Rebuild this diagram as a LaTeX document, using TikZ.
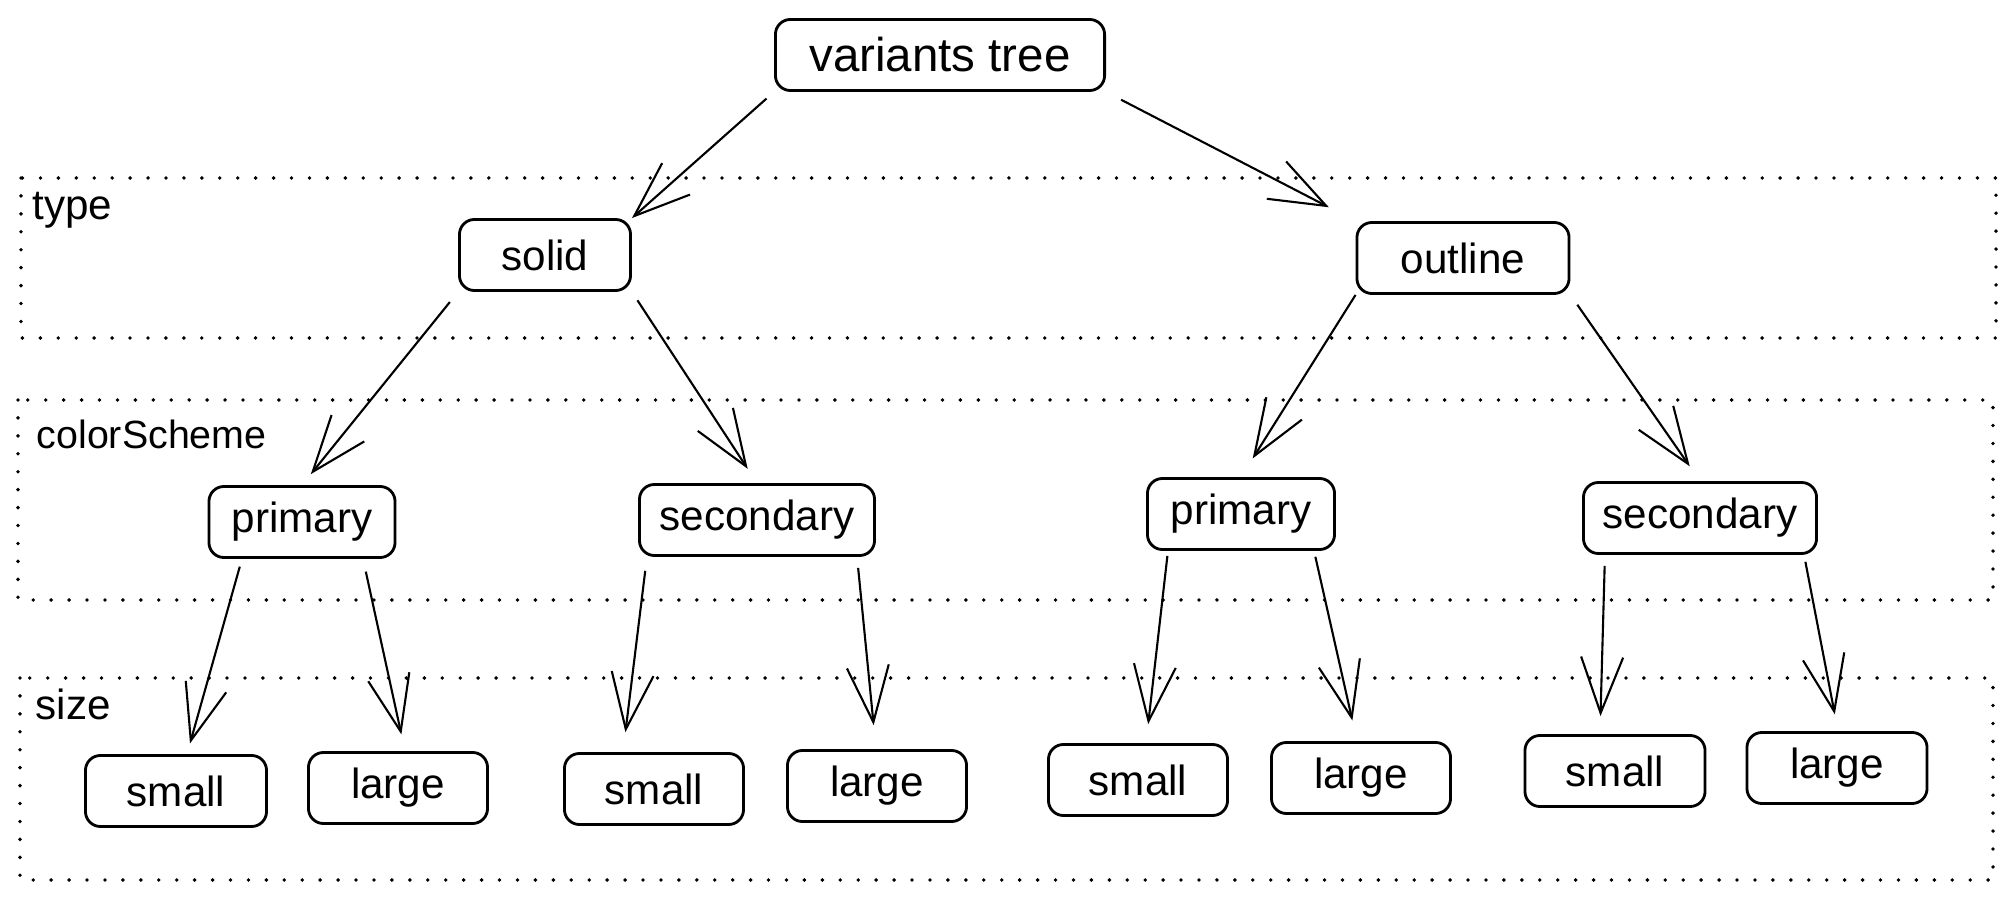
\documentclass[tikz,border=0pt]{standalone}
\usepackage{fontspec}
\setmainfont{Liberation Sans}
\usetikzlibrary{arrows.meta}
\tikzset{
	box/.style={draw, line width=0.8pt, rounded corners=0.15cm, minimum height=0.71cm, inner sep=0pt, font=\fontsize{12}{14}\selectfont},
	arr/.style={line width=0.6pt, -{Straight Barb[length=0.56cm, width=0.42cm]}},
	band/.style={line width=1.1pt, line cap=round, dash pattern=on 0pt off 5.1pt},
	layer/.style={inner sep=0pt, anchor=base west, font=\fontsize{12}{14}\selectfont},
}
\begin{document}
\begin{tikzpicture}[x=0.01cm, y=-0.01cm]
	\useasboundingbox (0, 0) rectangle (2015, 901);
	%層
	\draw[band] (21, 178) rectangle (1996, 338);
	\draw[band] (18, 400) rectangle (1993, 600);
	\draw[band] (20, 678) rectangle (1993, 880);
	\node[layer] (Ltype) at (32, 220) {type};
	\node[layer, font=\fontsize{11.2}{13}\selectfont] (Lcolor) at (36, 449) {colorScheme};
	\node[layer] (Lsize) at (35, 720) {size};
	%根
	\node[box, minimum width=3.29cm, font=\fontsize{13.5}{16}\selectfont] (tree) at (940, 55) {variants tree};
	%type
	\node[box, minimum width=1.71cm] (solid) at (545, 255) {solid};
	\node[box, minimum width=2.12cm] (outline) at (1463, 258) {outline};
	%colorScheme
	\node[box, minimum width=1.86cm] (primL) at (302, 522) {primary};
	\node[box, minimum width=2.35cm] (secL) at (757, 520) {secondary};
	\node[box, minimum width=1.87cm] (primR) at (1241, 514) {primary};
	\node[box, minimum width=2.33cm] (secR) at (1700, 518) {secondary};
	%size
	\node[box, minimum width=1.81cm] (small1) at (176, 791) {small};
	\node[box, minimum width=1.79cm] (large1) at (398, 788) {large};
	\node[box, minimum width=1.79cm] (small2) at (654, 789) {small};
	\node[box, minimum width=1.79cm] (large2) at (877, 786) {large};
	\node[box, minimum width=1.79cm] (small3) at (1138, 780) {small};
	\node[box, minimum width=1.79cm] (large3) at (1361, 778) {large};
	\node[box, minimum width=1.8cm] (small4) at (1615, 771) {small};
	\node[box, minimum width=1.8cm] (large4) at (1837, 768) {large};
	%矢印
	\draw[arr, shorten <=0.1cm] (tree.south west) -- (solid.north east);
	\draw[arr, shorten <=0.17cm, shorten >=0.3cm] (tree.south east) -- (outline.north west);
	%
	\draw[arr, shorten <=0.13cm, shorten >=0.14cm] (solid.south west) -- (primL.north);
	\draw[arr, shorten <=0.1cm, shorten >=0.17cm] (solid.south east) -- (secL.north);
	\draw[arr, shorten >=0.22cm] (outline.south west) -- (primR.north);
	\draw[arr, shorten <=0.12cm, shorten >=0.18cm] (outline.south east) -- (secR.north);
	%
	\draw[arr, shorten <=0.08cm, shorten >=0.11cm] ([xshift=-0.6cm]primL.south) -- ([xshift=0.11cm]small1.north);
	\draw[arr, shorten <=0.13cm, shorten >=0.17cm] ([xshift=0.61cm]primL.south) -- ([xshift=0.07cm]large1.north);
	\draw[arr, shorten <=0.14cm, shorten >=0.2cm] ([xshift=-1.1cm]secL.south) -- ([xshift=-0.31cm]small2.north);
	\draw[arr, shorten <=0.11cm, shorten >=0.24cm] ([xshift=1cm]secL.south) -- ([xshift=-0.01cm]large2.north);
	\draw[arr, shorten <=0.05cm, shorten >=0.19cm] ([xshift=-0.73cm]primR.south) -- ([xshift=0.08cm]small3.north);
	\draw[arr, shorten <=0.06cm, shorten >=0.21cm] ([xshift=0.73cm]primR.south) -- ([xshift=-0.04cm]large3.north);
	\draw[arr, shorten <=0.11cm, shorten >=0.18cm] ([xshift=-0.95cm]secR.south) -- ([xshift=-0.15cm]small4.north);
	\draw[arr, shorten <=0.07cm, shorten >=0.17cm] ([xshift=1.04cm]secR.south) -- ([xshift=0.01cm]large4.north);
\end{tikzpicture}
\end{document}
